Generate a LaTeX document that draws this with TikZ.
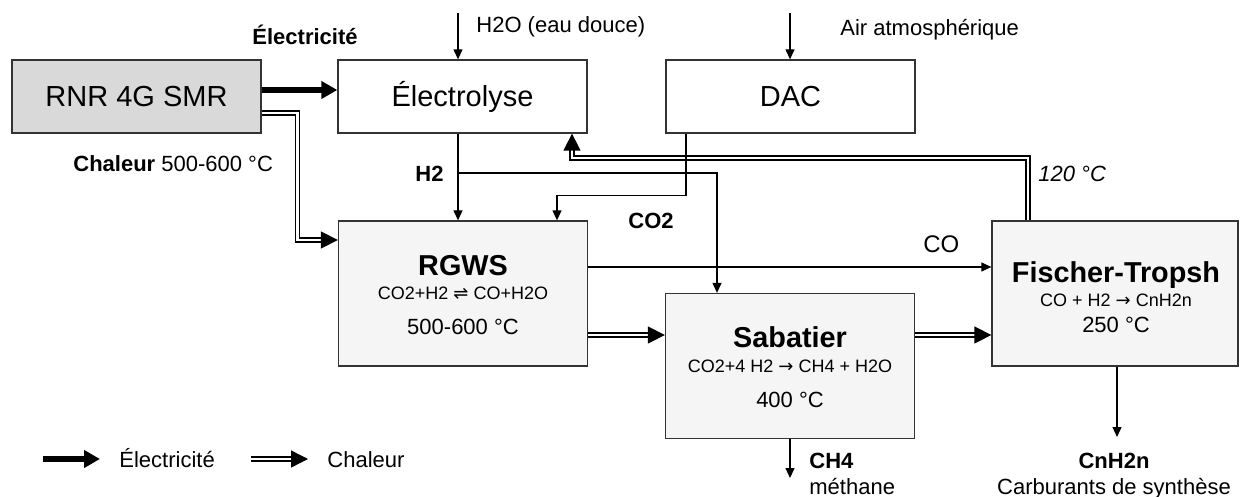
\documentclass[tikz,border=0pt]{standalone}
\usepackage{fontspec}
\setmainfont{Liberation Sans}
\newfontfamily\symfont{DejaVu Sans}
\usetikzlibrary{arrows.meta}

\begin{document}
\begin{tikzpicture}[x=.5pt,y=-.5pt,
	box/.style={draw=black!80,line width=.65pt,minimum width=124.5pt,minimum height=36.5pt,inner sep=0pt,font=\fontsize{14.5}{17}\selectfont},
	proc/.style={box,fill=black!4,minimum height=72.5pt},
	ttl/.style={font=\fontsize{14.4}{17}\selectfont\bfseries,anchor=base,inner sep=0pt},
	eqn/.style={font=\fontsize{9}{11}\selectfont,anchor=base,inner sep=0pt},
	tmp/.style={font=\fontsize{11}{13}\selectfont,anchor=base,inner sep=0pt},
	lbl/.style={font=\fontsize{11}{13}\selectfont,inner sep=0pt,anchor=base west},
	flow/.style={line width=.6pt,-{Triangle[length=5pt,width=4.5pt]}},
	elec/.style={line width=3.2pt,-{Triangle[length=8pt,width=8.5pt]}},
	heat/.style={double,double distance=1.3pt,line width=.7pt,-{Triangle[length=8.5pt,width=8.5pt]}}]
	\useasboundingbox (0,0) rectangle (1240,497);
	\node[box,fill=black!15] (rnr) at (136.5,96.5) {RNR 4G SMR};
	\node[box] (elec) at (462.5,96.5) {Électrolyse};
	\node[box] (dac) at (790.5,96.5) {DAC};
	\node[proc] (rgws) at (463,293.5) {};
	\node[proc] (sab) at (790,366) {};
	\node[proc,minimum width=123pt] (ft) at (1115,293.5) {};
	\node[ttl] (rgwsT) at (463,275) {RGWS};
	\node[eqn] (rgwsE) at (463,299) {CO2+H2 {\symfont ⇌} CO+H2O};
	\node[tmp] (rgwsC) at (463,334) {500-600 °C};
	\node[ttl] (sabT) at (790,347) {Sabatier};
	\node[eqn] (sabE) at (790,372) {CO2+4 H2 {\symfont →} CH4 + H2O};
	\node[tmp] (sabC) at (790,407) {400 °C};
	\node[ttl] (ftT) at (1116,282) {Fischer-Tropsh};
	\node[eqn] (ftE) at (1116,306) {CO + H2 {\symfont →} CnH2n};
	\node[tmp] (ftC) at (1116,332) {250 °C};
	\draw[heat] ([yshift=-8.25pt]rnr.east) -- ++(36,0) |- ([yshift=26.75pt]rgws.west);
	\coordinate (hr) at ([yshift=-20.75pt]rgws.east);
	\draw[heat] (hr) -- (hr -| sab.west);
	\draw[heat] (hr -| sab.east) -- (hr -| ft.west);
	\draw[heat] ([xshift=-43.5pt]ft.north) -- ++(0,-62.5) -| ([xshift=54.75pt]elec.south);
	\draw[elec] ([yshift=3.25pt]rnr.east) -- ([yshift=3.25pt]elec.west);
	\coordinate (h2oin) at (458,13);
	\draw[flow] (h2oin) -- (h2oin |- elec.north);
	\coordinate (airin) at (790,13);
	\draw[flow] (airin) -- (airin |- dac.north);
	\draw[flow] ([xshift=-2.25pt]elec.south) -- ([xshift=-2.5pt]rgws.north);
	\coordinate (h2j) at (458,173);
	\draw[flow] (h2j) -| ([xshift=-36.5pt]sab.north);
	\draw[flow] ([xshift=-52.25pt]dac.south) -- ++(0,62) -| ([xshift=47pt]rgws.north);
	\draw[flow] ([yshift=13.25pt]rgws.east) -- ([yshift=13.25pt]ft.west);
	\coordinate (ch4out) at (790,478);
	\draw[flow] (sab.south) -- (ch4out);
	\coordinate (fuelout) at (1117,437);
	\draw[flow] ([xshift=1pt]ft.south) -- (fuelout);
	\node[lbl,anchor=base] (lelecT) at (305,45) {\bfseries Électricité};
	\node[lbl] (lchal) at (73,172) {\textbf{Chaleur} 500-600 °C};
	\node[lbl] (lh2o) at (476,33) {H2O (eau douce)};
	\node[lbl] (lair) at (840,36) {Air atmosphérique};
	\node[lbl] (lh2) at (415,182) {\bfseries H2};
	\node[lbl] (lco2) at (628,228) {\bfseries CO2};
	\node[lbl] (l120) at (1038,182) {\itshape 120 °C};
	\node[lbl,font=\fontsize{12}{14}\selectfont] (lco) at (923,252) {CO};
	\node[lbl] (lch4) at (809,468) {\bfseries CH4};
	\node[lbl] (lmeth) at (809,494) {méthane};
	\node[lbl,anchor=base] (lfuel) at (1114,468) {\bfseries CnH2n};
	\node[lbl,anchor=base] (lsyn) at (1114,494) {Carburants de synthèse};
	\coordinate (le1) at (43,459); \coordinate (le2) at (100,459);
	\draw[elec] (le1) -- (le2);
	\node[lbl] (lelec) at (119,467) {Électricité};
	\coordinate (lh1) at (251,459); \coordinate (lh2) at (308,459);
	\draw[heat] (lh1) -- (lh2);
	\node[lbl] (lheat) at (327,467) {Chaleur};
\end{tikzpicture}
\end{document}
